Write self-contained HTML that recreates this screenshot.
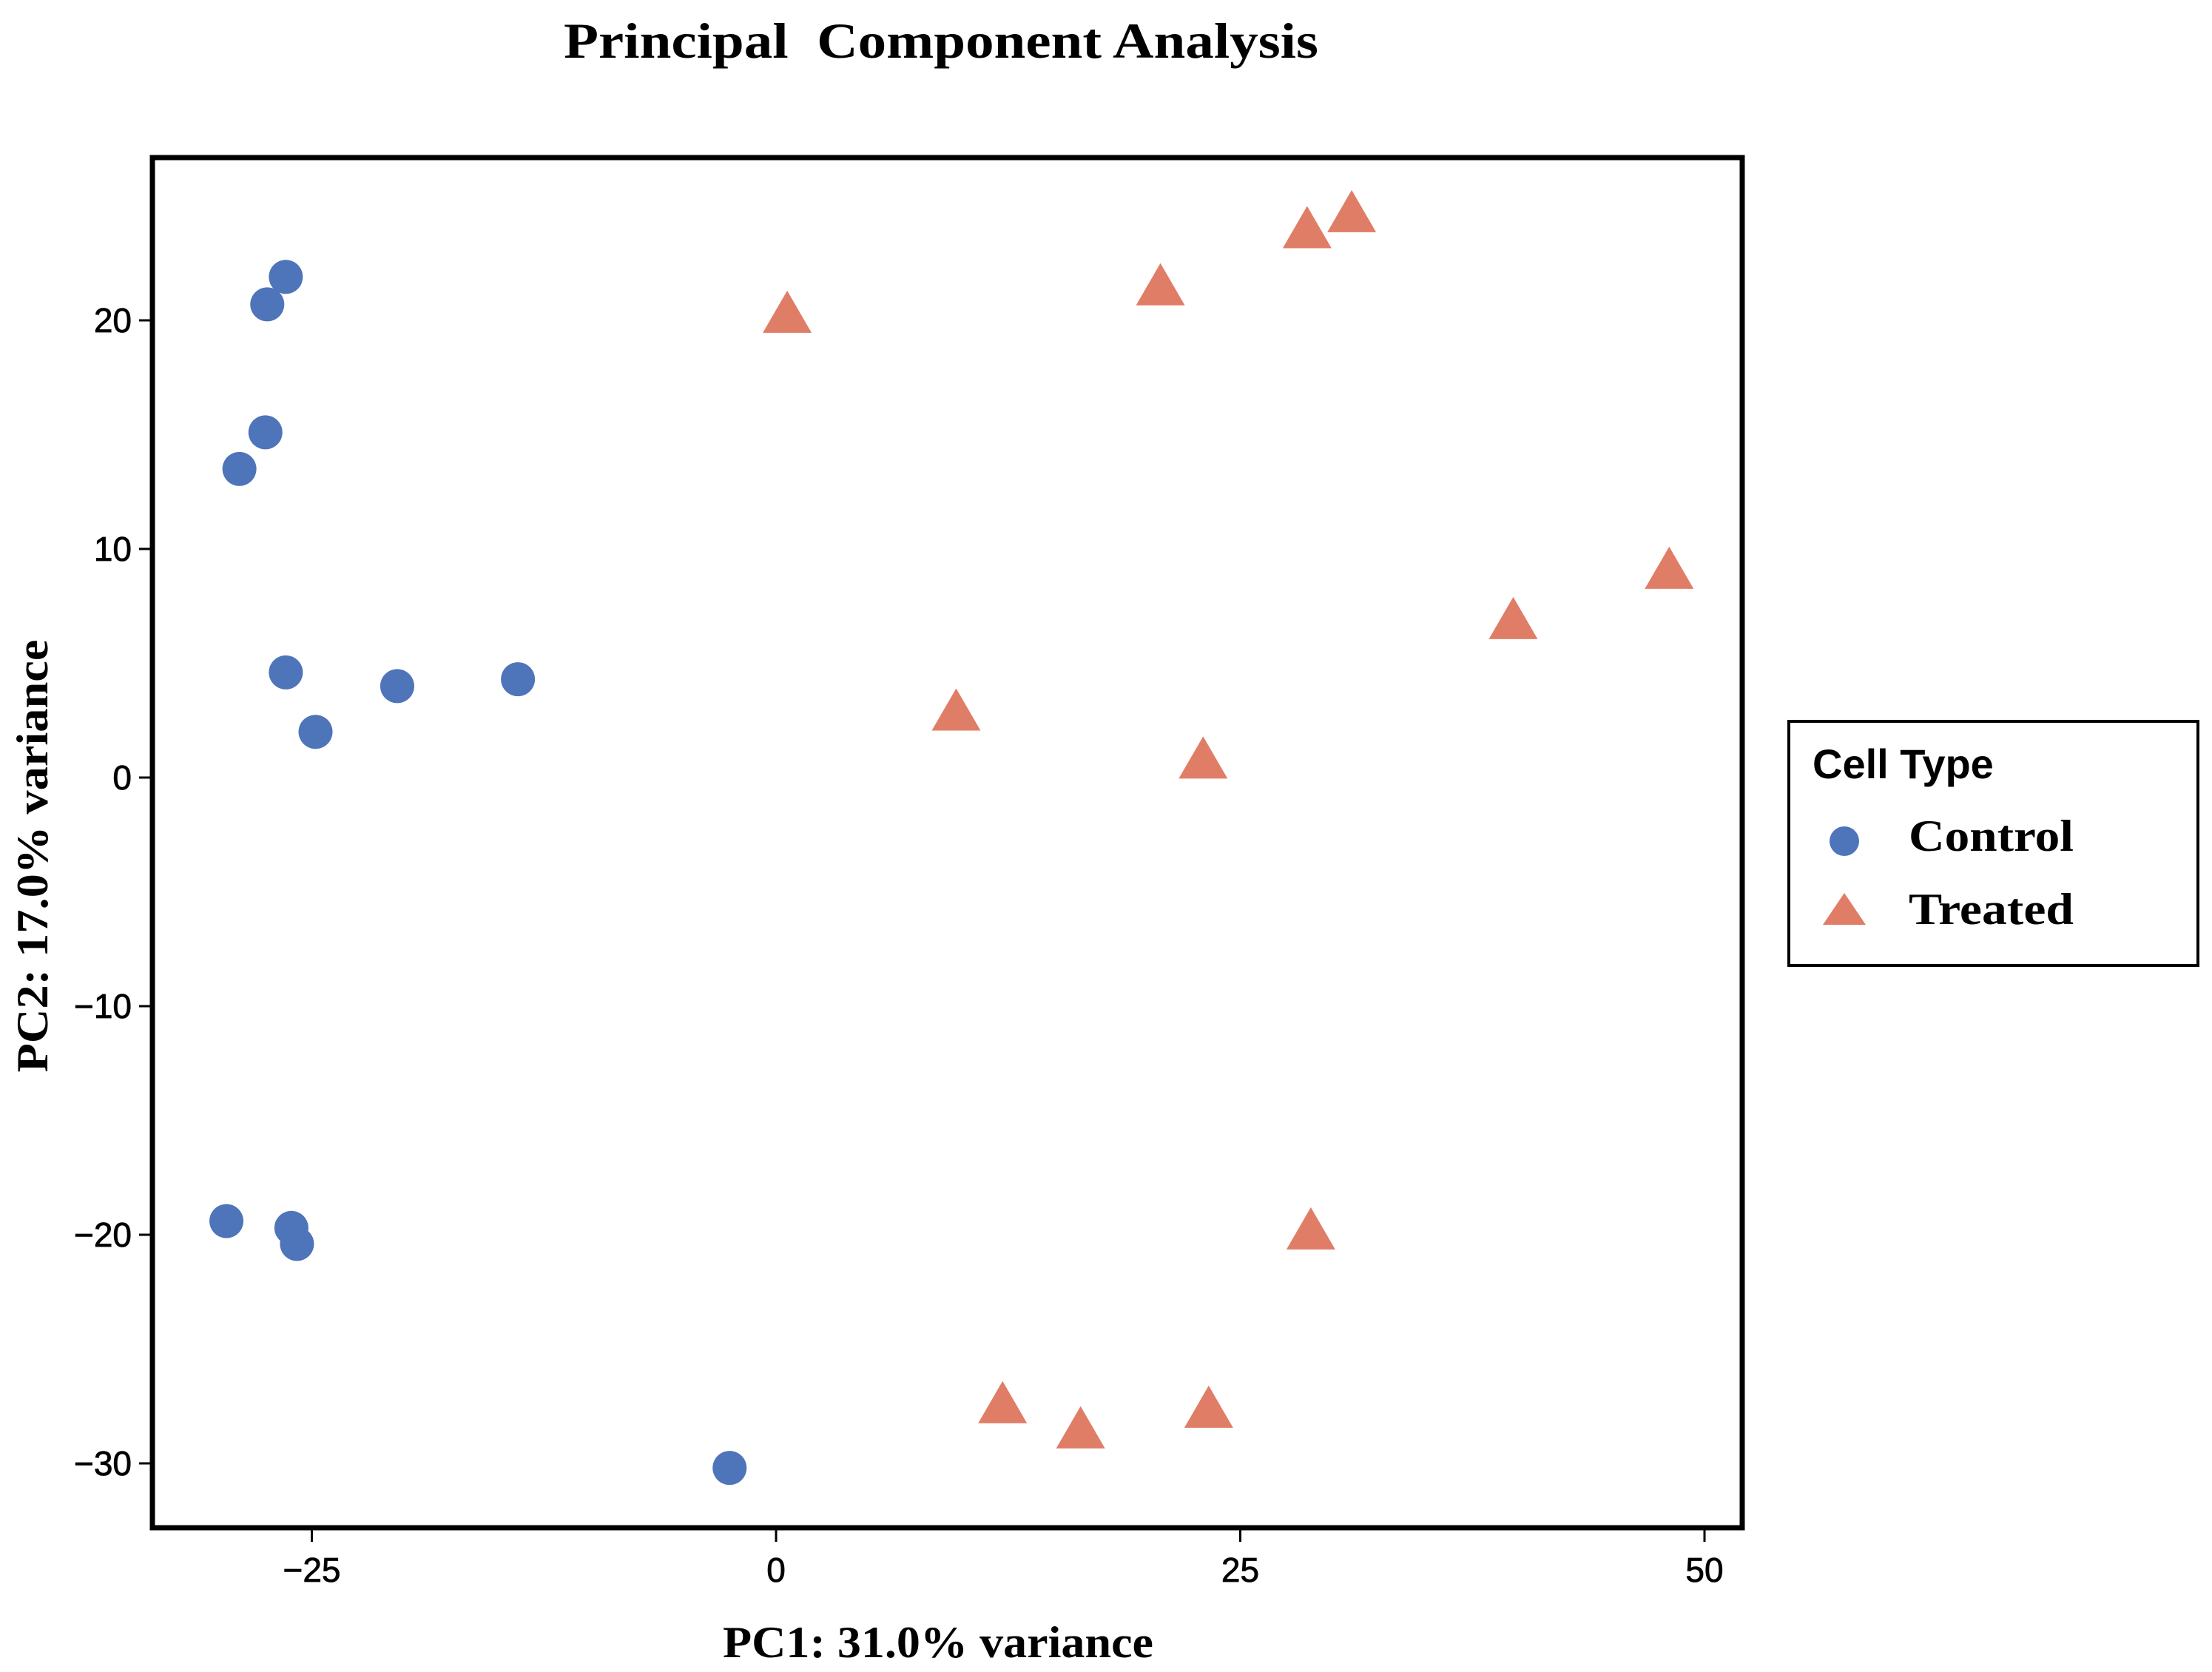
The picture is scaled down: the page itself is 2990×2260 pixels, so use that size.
<!DOCTYPE html>
<html><head><meta charset="utf-8"><style>
html,body{margin:0;padding:0;background:#fff;}
svg{display:block;}
</style></head><body>
<svg id="chart" width="2990" height="2260" xmlns="http://www.w3.org/2000/svg">
<text x="1272" y="78" text-anchor="middle" textLength="1020" lengthAdjust="spacingAndGlyphs" font-family="Liberation Serif, serif" font-weight="bold" font-size="68" xml:space="preserve">Principal  Component Analysis</text>
<rect x="206" y="213" width="2149" height="1852" fill="none" stroke="#000" stroke-width="7"/>
<g id="xticks"></g>
<g id="yticks"></g>
<g id="marks"></g>
<text x="1268" y="2240" text-anchor="middle" textLength="582" lengthAdjust="spacingAndGlyphs" font-family="Liberation Serif, serif" font-weight="bold" font-size="60">PC1: 31.0% variance</text>
<text transform="translate(64,1157) rotate(-90)" text-anchor="middle" textLength="585" lengthAdjust="spacingAndGlyphs" font-family="Liberation Serif, serif" font-weight="bold" font-size="60">PC2: 17.0% variance</text>
<g>
<rect x="2418" y="975" width="553" height="330" fill="#fff" stroke="#000" stroke-width="4"/>
<text x="2450" y="1052" font-family="Liberation Sans, sans-serif" font-weight="bold" font-size="56">Cell Type</text>
<circle cx="2493" cy="1137" r="20" fill="#4e74ba"/>
<text x="2580" y="1150" textLength="223" lengthAdjust="spacingAndGlyphs" font-family="Liberation Serif, serif" font-weight="bold" font-size="60">Control</text>
<polygon points="2493,1207 2522,1250 2464,1250" fill="#e07d66"/>
<text x="2580" y="1249" textLength="223" lengthAdjust="spacingAndGlyphs" font-family="Liberation Serif, serif" font-weight="bold" font-size="60">Treated</text>
</g>
</svg>
<script>
const xTicks=[-25,0,25,50];
const yTicks=[20,10,0,-10,-20,-30];
const controlX=[-26.4,-27.4,-27.5,-28.9,-26.4,-20.4,-13.9,-24.8,-29.6,-26.1,-25.8,-2.5];
const controlY=[21.9,20.7,15.1,13.5,4.6,4.0,4.3,2.0,-19.4,-19.7,-20.4,-30.2];
const treatedX=[0.6,20.7,28.6,31.0,48.1,39.7,9.7,23.0,28.8,12.2,16.4,23.3];
const treatedY=[20.2,21.4,23.9,24.6,9.0,6.8,2.8,0.7,-19.9,-27.5,-28.6,-27.7];
const NS='http://www.w3.org/2000/svg';
const sx=v=>1049+v*25.1;
const sy=v=>1051-v*30.9;
function mk(tag,attrs,parent){const e=document.createElementNS(NS,tag);for(const k in attrs)e.setAttribute(k,attrs[k]);parent.appendChild(e);return e;}
const gx=document.getElementById('xticks'),gy=document.getElementById('yticks'),gm=document.getElementById('marks');
xTicks.forEach(t=>{
  const l=mk('line',{x1:sx(t),x2:sx(t),y1:2068,y2:2084,stroke:'#000','stroke-width':3},gx);
  
  
  const tx=mk('text',{x:sx(t),y:2138,'text-anchor':'middle','font-family':'Liberation Sans, sans-serif','font-size':46,'stroke':'#000','stroke-width':0.8},gx);
  
  
  tx.textContent=t<0?'\u2212'+(-t):String(t);
});
yTicks.forEach(t=>{
  const l=mk('line',{x1:188,x2:203,y1:sy(t),y2:sy(t),stroke:'#000','stroke-width':3},gy);
  
  
  const tx=mk('text',{x:178,y:sy(t)+16,'text-anchor':'end','font-family':'Liberation Sans, sans-serif','font-size':46,'stroke':'#000','stroke-width':0.8},gy);
  
  
  tx.textContent=t<0?'\u2212'+(-t):String(t);
});
controlX.forEach((x,i)=>{
  const c=mk('circle',{cx:sx(x),cy:sy(controlY[i]),r:23,fill:'#4e74ba'},gm);
  
  
});
treatedX.forEach((x,i)=>{
  const cx=sx(x),cy=sy(treatedY[i]);
  const p=mk('polygon',{points:`${cx},${cy-34} ${cx+33},${cy+23} ${cx-33},${cy+23}`,fill:'#e07d66'},gm);
  
  
});
</script>
</body></html>
